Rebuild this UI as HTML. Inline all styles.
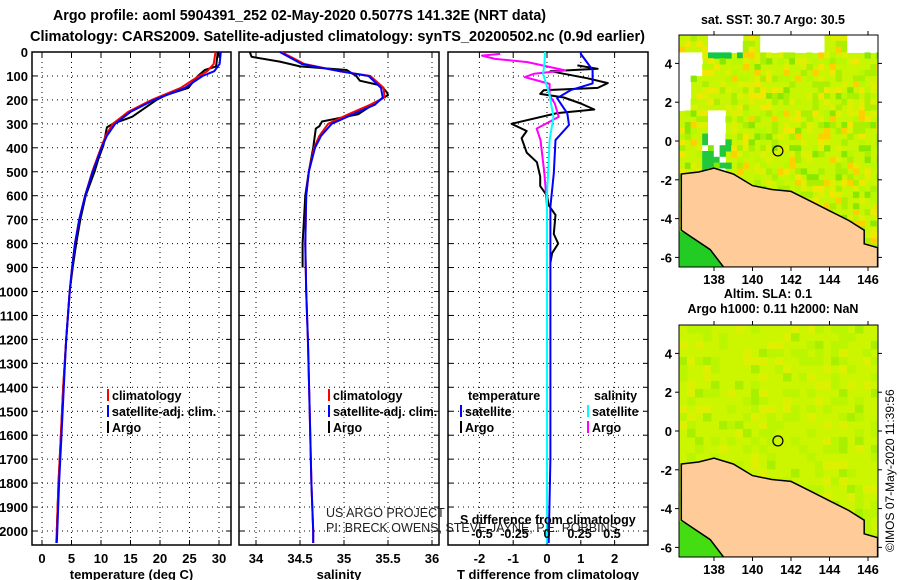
<!DOCTYPE html>
<html><head><meta charset="utf-8">
<style>
html,body{margin:0;padding:0;background:#fff;}
svg{display:block;font-family:"Liberation Sans",sans-serif;}
.b{font-weight:bold;}
</style></head>
<body>
<svg id="root" width="900" height="580" viewBox="0 0 900 580" xmlns="http://www.w3.org/2000/svg">
<text x="53" y="20" class="b" font-size="15" textLength="493" lengthAdjust="spacingAndGlyphs">Argo profile: aoml 5904391_252 02-May-2020 0.5077S 141.32E (NRT data)</text>
<text x="30" y="41" class="b" font-size="15" textLength="615" lengthAdjust="spacingAndGlyphs">Climatology: CARS2009. Satellite-adjusted climatology: synTS_20200502.nc (0.9d earlier)</text>
<g id="plots"></g>
<g id="maps"></g>
<text transform="translate(894,552) rotate(-90)" font-size="12">©IMOS 07-May-2020 11:39:56</text>
</svg>
<script>
// ---- data ----
const tClimDepth = [0,50,80,100,150,200,250,300,350,400,500,600,700,800,900,1000,1200,1400,1600,1800,2000,2050];
const tClimVal   = [29.4,29.1,28.0,26.6,23.5,18.6,14.6,12.0,10.8,10.0,8.5,7.3,6.3,5.6,5.1,4.7,4.1,3.6,3.2,2.8,2.5,2.4];
const tSatDepth  = [0,50,80,100,150,200,250,300,350,400,500,600,700,800,900,1000,1200,1400,1600,1800,2000,2050];
const tSatVal    = [30.3,30.1,29.2,27.2,24.2,19.0,15.0,12.4,11.0,10.1,8.6,7.3,6.3,5.6,5.1,4.7,4.1,3.7,3.3,2.9,2.6,2.5];
const tArgoDepth = [0,60,75,100,150,180,200,270,300,315,390,450,500,600,700,800,900,1000,1200,1400,1600,1800,2000];
const tArgoVal   = [29.8,29.5,27.6,26.4,24.8,21.0,19.4,15.3,12.0,11.0,10.4,9.5,8.9,7.4,6.5,5.8,5.2,4.7,4.1,3.6,3.2,2.8,2.5];

const sClimDepth = [0,50,80,100,150,190,220,260,300,350,400,500,600,800,1000,1200,1500,1800,2000,2050];
const sClimVal   = [34.29,34.55,34.95,35.3,35.45,35.46,35.3,35.05,34.82,34.72,34.66,34.6,34.57,34.56,34.57,34.59,34.61,34.63,34.65,34.65];
const sSatDepth  = [0,50,80,100,150,190,220,260,300,350,400,500,600,800,1000,1200,1500,1800,2000,2050];
const sSatVal    = [34.27,34.52,34.95,35.28,35.42,35.44,35.35,35.1,34.86,34.74,34.67,34.6,34.57,34.56,34.57,34.59,34.61,34.63,34.65,34.65];
const sArgoDepth = [0,20,40,60,75,100,120,140,170,180,200,260,290,310,320,400,500,600,800,900];
const sArgoVal   = [33.93,33.95,34.27,34.5,35.03,35.14,35.18,35.42,35.49,35.5,35.41,35.16,34.75,34.72,34.68,34.65,34.6,34.56,34.53,34.53];

const dTSatDepth  = [0,8,75,131,159,193,256,305,368,507,646,1000,1700,2050];
const dTSatVal    = [1.0,1.0,1.35,1.35,0.7,0.3,0.6,0.65,0.25,0.2,0.1,0.1,0.1,0.05];
const dTArgoDepth = [56,70,80,110,130,150,160,175,190,215,240,255,300,330,360,420,460,520,560,600,640,680,760,800,840,880];
const dTArgoVal   = [0.9,1.5,0.1,1.2,1.8,1.5,-0.1,-0.2,0.5,1.0,1.4,0.3,-1.05,-0.6,-0.75,-0.6,-0.3,-0.2,-0.2,0.0,0.05,0.25,0.2,0.33,0.15,0.1];
const dSSatDepth  = [0,50,91,181,271,368,600,1000,2050];
const dSSatVal    = [-0.015,-0.02,-0.03,0.02,0.05,0.02,0.0,0.0,0.0];
const dSArgoDepth = [8,15,29,42,77,91,105,133,181,215,271,320,368,507,646,880];
const dSArgoVal   = [-0.36,-0.5,-0.4,-0.15,0.14,-0.1,-0.17,0.02,0.02,0.06,0.09,-0.08,-0.05,-0.02,0.0,0.0];

const depthTicks = [0,100,200,300,400,500,600,700,800,900,1000,1100,1200,1300,1400,1500,1600,1700,1800,1900,2000];
const tempTicks = [0,5,10,15,20,25,30];
const salTicks = [34,34.5,35,35.5,36];
const dTTicks = [-2,-1,0,1,2];
const dSTicks = [-0.5,-0.25,0,0.25,0.5];
const latTicks = [4,2,0,-2,-4,-6];
const lonTicks = [138,140,142,144,146];

// ---- helpers ----
const NS='http://www.w3.org/2000/svg';
function mk(tag, attrs, parent){const e=document.createElementNS(NS,tag);for(const k in attrs)e.setAttribute(k,attrs[k]);parent.appendChild(e);return e;}
const plots=document.getElementById('plots');
const TOP=52, BOT=545;
const yD = d => 52 + d*0.2395;
const xT = v => 42 + v*5.9;
const xS = v => 256 + (v-34)*88;
const xDT = v => 547 + v*33.8;
const xDS = v => 547 + v*130;

function panel(name,x0,x1,xs,ticks,fmt,xlabel,showDepth){
  const g=mk('g',{},plots);
  
  
  depthTicks.forEach(d=>{
    const l=mk('line',{x1:x0,x2:x1,y1:yD(d),y2:yD(d),stroke:'#000','stroke-width':1,'stroke-dasharray':'1,4'},g);
    
    
    mk('line',{x1:x0,x2:x0+5,y1:yD(d),y2:yD(d),stroke:'#000'},g);
    mk('line',{x1:x1-5,x2:x1,y1:yD(d),y2:yD(d),stroke:'#000'},g);
    if(showDepth){
      const t=mk('text',{x:28,y:yD(d)+5,'text-anchor':'end','font-size':13,class:'b'},g);
      
      
      t.textContent=d;
    }
  });
  ticks.forEach(v=>{
    const x=xs(v);
    mk('line',{x1:x,x2:x,y1:TOP,y2:BOT,stroke:'#000','stroke-dasharray':'1,4'},g);
    mk('line',{x1:x,x2:x,y1:TOP,y2:TOP+5,stroke:'#000'},g);
    mk('line',{x1:x,x2:x,y1:BOT-5,y2:BOT,stroke:'#000'},g);
    const t=mk('text',{x:x,y:563,'text-anchor':'middle','font-size':13,class:'b'},g);
    
    
    t.textContent=fmt(v);
  });
  const r=mk('rect',{x:x0,y:TOP,width:x1-x0,height:BOT-TOP,fill:'none',stroke:'#000','stroke-width':1.5},g);
  
  
  const xl=mk('text',{x:(x0+x1)/2,y:579,'text-anchor':'middle','font-size':13,class:'b'},g);
  
  
  xl.textContent=xlabel;
  return g;
}
function series(g,name,depths,vals,xs,color,w){
  const pts=depths.map((d,i)=>xs(vals[i]).toFixed(1)+','+yD(d).toFixed(1)).join(' ');
  const p=mk('polyline',{points:pts,fill:'none',stroke:color,'stroke-width':w,'stroke-linejoin':'round'},g);
  
  
}
function legend(g,x,y,color,label,bold){
  mk('rect',{x:x,y:y-11,width:2,height:12,fill:color},g);
  const t=mk('text',{x:x+5,y:y,'font-size':12.5,class:bold?'b':''},g);
  
  
  t.textContent=label;
}

const g1=panel('temperature-panel',32,231,xT,tempTicks,v=>v,'temperature (deg C)',true);
series(g1,'temp-argo-line',tArgoDepth,tArgoVal,xT,'#000',2);
series(g1,'temp-climatology-line',tClimDepth,tClimVal,xT,'#f00',2);
series(g1,'temp-satellite-line',tSatDepth,tSatVal,xT,'#00f',2);
legend(g1,107,400,'#f00','climatology',true);
legend(g1,107,416,'#00f','satellite-adj. clim.',true);
legend(g1,107,432,'#000','Argo',true);

const g2=panel('salinity-panel',239,439,xS,salTicks,v=>v,'salinity',false);
series(g2,'sal-argo-line',sArgoDepth,sArgoVal,xS,'#000',2);
series(g2,'sal-climatology-line',sClimDepth,sClimVal,xS,'#f00',2);
series(g2,'sal-satellite-line',sSatDepth,sSatVal,xS,'#00f',2);
legend(g2,328,400,'#f00','climatology',true);
legend(g2,328,416,'#00f','satellite-adj. clim.',true);
legend(g2,328,432,'#000','Argo',true);

const g3=panel('difference-panel',448,648,xDT,dTTicks,v=>v,'T difference from climatology',false);
series(g3,'dT-argo-line',dTArgoDepth,dTArgoVal,xDT,'#000',2);
series(g3,'dS-argo-line',dSArgoDepth,dSArgoVal,xDS,'#f0f',2);
series(g3,'dS-satellite-line',dSSatDepth,dSSatVal,xDS,'#0ff',2);
series(g3,'dT-satellite-line',dTSatDepth,dTSatVal,xDT,'#00f',2);
{const t=mk('text',{x:468,y:400,'font-size':12.5,class:'b'},g3);t.textContent='temperature';
 
 
 const s=mk('text',{x:594,y:400,'font-size':12.5,class:'b'},g3);s.textContent='salinity';
 
 }
legend(g3,460,416,'#00f','satellite',true);
legend(g3,460,432,'#000','Argo',true);
legend(g3,587,416,'#0ff','satellite',true);
legend(g3,587,432,'#f0f','Argo',true);
dSTicks.forEach(v=>{
  const t=mk('text',{x:xDS(v),y:538,'text-anchor':'middle','font-size':12.5,class:'b'},g3);
  
  
  t.textContent=v;
});
{const t=mk('text',{x:460,y:524,'font-size':12.5,class:'b'},g3);t.textContent='S difference from climatology';
 
 }
{const a=mk('text',{x:326,y:517,'font-size':12.5,fill:'#222'},plots);a.textContent='US ARGO PROJECT';
 
 
 const b=mk('text',{x:326,y:532,'font-size':12.5,fill:'#222'},plots);b.textContent='PI: BRECK OWENS, STEVE JAYNE, P.E. ROBBINS';
 
 }

// ---- maps ----
const maps=document.getElementById('maps');
const coast=[[136.3,-1.7],[137.2,-1.6],[138,-1.4],[139,-1.7],[140,-2.3],[141,-2.5],[142,-2.6],[143,-3.1],[144,-3.6],[145,-4.1],[145.8,-4.6],[145.8,-5.3],[146.5,-5.5],[146.5,-6.5],[138.5,-6.5],[137.8,-5.6],[136.3,-4.6]];
function hash(i,j,s){let h=(i*374761393+j*668265263+s*1442695041)|0;h=(h^(h>>>13))*1274126177|0;return ((h^(h>>>16))>>>0)/4294967296;}
function drawMap(name,yTop,smooth){
  const x0=679,x1=878,y1=yTop+232;
  const lx=v=>714+(v-138)*19.25, ly=v=>yTop+106-v*19.4;
  const g=mk('g',{},maps);
  
  
  const clipId=name+'-clip';
  const cp=mk('clipPath',{id:clipId},g);mk('rect',{x:x0,y:yTop,width:x1-x0,height:y1-yTop},cp);
  const inner=mk('g',{'clip-path':'url(#'+clipId+')'},g);
  mk('rect',{x:x0,y:yTop,width:x1-x0,height:y1-yTop,fill:smooth?'#ccf500':'#c8f500'},inner);
  const cs=smooth?8:5.8;
  for(let i=0;i*cs<x1-x0;i++)for(let j=0;j*cs<y1-yTop;j++){
    const r=hash(i,j,smooth?2:1);
    const px=x0+i*cs, py=yTop+j*cs;
    let c=null;
    if(smooth){ if(r<0.6)continue; c=r<0.8?'#bbf500':(r<0.92?'#ddf000':'#a8f000'); }
    else{
      // white (no data) patches
      if(py<yTop+12 && (px>705&&px<740 || px>755&&px<820 || px>845)) c='#fff';
      else if(py<yTop+40 && px<700 && py>yTop+12) c='#fff';
      else if(py>yTop+40&&py<yTop+70&&px<690) c='#fff';
      else if(py>yTop+75&&py<yTop+105&&px>705&&px<720) c='#fff';
      else if(py>yTop+100&&py<yTop+140&&px>700&&px<722&&r<0.5) c='#fff';
      else if(r<0.45) continue;
      else if(r<0.6) c='#aaf000';
      else if(r<0.72) c='#ddf000';
      else if(r<0.8) c='#f0e800';
      else if(r<0.86) c='#ffd000';
      else if(r<0.92) c='#88e800';
      else c='#b8f800';
      if(c!=='#fff' && px>700&&px<730&&py>yTop+95&&py<yTop+145&&r<0.8) c='#22c83c';
      if(c!=='#fff' && py<yTop+20 && px>705&&px<740 && r>0.5) c='#11c844';
    }
    mk('rect',{x:px,y:py,width:cs+0.5,height:cs+0.5,fill:c},inner);
  }
  mk('polygon',{points:'679,'+(yTop+196)+' 720,'+(yTop+212)+' 740,'+(yTop+232)+' 679,'+(yTop+232),fill:smooth?'#44dd11':'#22cc22'},inner);
  const land=mk('polygon',{points:coast.map(p=>lx(p[0]).toFixed(1)+','+ly(p[1]).toFixed(1)).join(' '),fill:'#ffcc99',stroke:'#000','stroke-width':1.5},inner);
  
  
  const m=mk('circle',{cx:lx(141.32),cy:ly(-0.51),r:5,fill:'none',stroke:'#000','stroke-width':1.2},inner);
  
  
  mk('rect',{x:x0,y:yTop,width:x1-x0,height:y1-yTop,fill:'none',stroke:'#000','stroke-width':1},g);
  latTicks.forEach(v=>{
    mk('line',{x1:x0-4,x2:x0,y1:ly(v),y2:ly(v),stroke:'#000'},g);
    mk('line',{x1:x1,x2:x1+4,y1:ly(v),y2:ly(v),stroke:'#000'},g);
    const t=mk('text',{x:672,y:ly(v)+5,'text-anchor':'end','font-size':13,class:'b'},g);
    
    
    t.textContent=v;
  });
  lonTicks.forEach(v=>{
    mk('line',{x1:lx(v),x2:lx(v),y1:yTop-4,y2:yTop,stroke:'#000'},g);
    mk('line',{x1:lx(v),x2:lx(v),y1:y1,y2:y1+4,stroke:'#000'},g);
    const t=mk('text',{x:lx(v),y:y1+17,'text-anchor':'middle','font-size':13,class:'b'},g);
    
    
    t.textContent=v;
  });
}
drawMap('sst-map',35,false);
drawMap('sla-map',325,true);
{const t=mk('text',{x:773,y:24,'text-anchor':'middle','font-size':12.5,class:'b'},maps);t.textContent='sat. SST: 30.7 Argo: 30.5';
 
 
 const a=mk('text',{x:768,y:298,'text-anchor':'middle','font-size':12.5,class:'b'},maps);a.textContent='Altim. SLA: 0.1';
 
 
 const b=mk('text',{x:773,y:313,'text-anchor':'middle','font-size':12.5,class:'b'},maps);b.textContent='Argo h1000: 0.11 h2000: NaN';
 
 }
</script>
</body></html>
